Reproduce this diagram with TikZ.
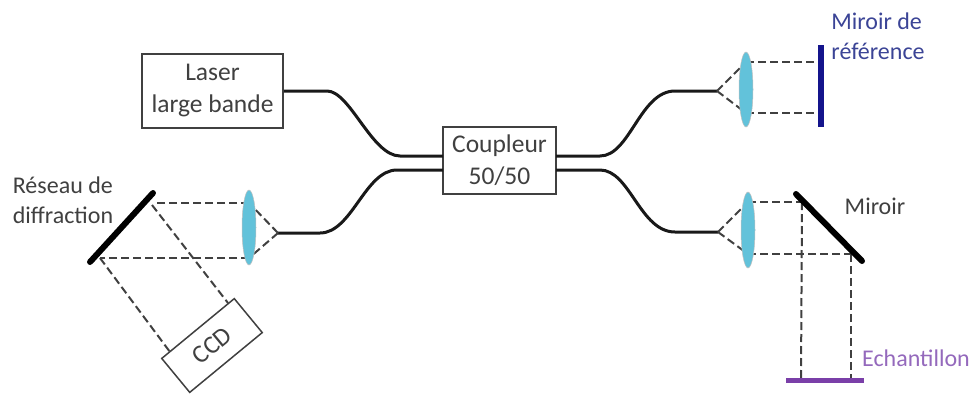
\documentclass[tikz,border=0pt]{standalone}
\usepackage{fontspec}
\setmainfont{Carlito}
\usepackage{xcolor}
\usetikzlibrary{positioning,shapes.geometric}
\definecolor{txtgris}{HTML}{404040}
\definecolor{bleunuit}{HTML}{14148C}
\definecolor{bleutxt}{HTML}{3B4496}
\definecolor{violet}{HTML}{7A3FA8}
\definecolor{violettxt}{HTML}{9469BC}
\definecolor{lentille}{HTML}{62C2DA}
\tikzset{
  boite/.style={draw=black!75,line width=1.5pt,fill=white,align=center,text=txtgris,inner sep=0pt,font=\fontsize{25.5}{32}\selectfont},
  legende/.style={align=left,inner sep=0pt,text=txtgris,font=\fontsize{24}{30}\selectfont},
  fibre/.style={line width=3pt,black!90},
  faisceau/.style={dashed,dash pattern=on 8pt off 4pt,line width=2pt,black!75},
  miroir/.style={line width=6pt,line cap=round},
  lens/.style={ellipse,draw=black!25,line width=.5pt,fill=lentille,inner sep=0pt,minimum width=14pt}
}
\begin{document}
\begin{tikzpicture}[x=1pt,y=-1pt]
    \useasboundingbox (0,0) rectangle (975,394);
    % ------------------------------------------------------------------
    %                             NODES
    % ------------------------------------------------------------------
    % boxes
    \node[boite,minimum width=141pt,minimum height=74pt]  (laser)    at (212.5,91)  {Laser\\large bande};
    \node[boite,minimum width=113pt,minimum height=67pt]  (coupleur) at (499.5,160.5) {Coupleur\\50/50};
    \node[boite,minimum width=94pt,minimum height=44pt,rotate=39.5] (ccd) at (212,345.5) {CCD};
    % labels
    \node[legende]                 (reseau)  at (63,200)   {Réseau de\\diffraction};
    \node[legende,text=bleutxt]    (reftxt)  at (878,36.5) {Miroir de\\référence};
    \node[legende]                 (mirtxt)  at (875,206)  {Miroir};
    \node[legende,text=violettxt]  (echtxt)  at (916,358)  {Echantillon};
    % coupler ports
    \coordinate (cNO) at (443,156);
    \coordinate (cSO) at (443,170);
    \coordinate (cNE) at (556,156);
    \coordinate (cSE) at (556,170);
    % fibre ends
    \coordinate (apexG)  at (278,233);
    \coordinate (apexH)  at (717,91);
    \coordinate (apexB)  at (718,232);
    % left arm
    \coordinate (resA)   at (153,193);
    \coordinate (resB)   at (90,262);
    \coordinate (resH)   at (155,203);
    \coordinate (resL)   at (100,258);
    \coordinate (resC)   at (152,205);
    \coordinate (resD)   at (100,258);
    \coordinate (lgH)    at (249,203);
    \coordinate (lgB)    at (249,258);
    \coordinate (ccdH)   at (228,303);
    \coordinate (ccdB)   at (170,352);
    % top right arm
    \coordinate (lhH)    at (746,62);
    \coordinate (lhB)    at (746,113);
    \coordinate (refH)   at (821,62);
    \coordinate (refB)   at (821,113);
    \coordinate (refA)   at (821,45);
    \coordinate (refC)   at (821,127);
    % bottom right arm
    \coordinate (lbH)    at (748,202);
    \coordinate (lbB)    at (748,254);
    \coordinate (mirA)   at (796,194);
    \coordinate (mirB)   at (862,261);
    \coordinate (mirH)   at (802,202);
    \coordinate (mirL)   at (851,254);
    \coordinate (echA)   at (786,380);
    \coordinate (echB)   at (864,380);
    \coordinate (echH)   at (801,380);
    \coordinate (echL)   at (851,380);

    % ------------------------------------------------------------------
    %                             EDGES
    % ------------------------------------------------------------------
    % fibres
    \draw[fibre] (laser.east) -- (327,91) .. controls (350,91) and (372,156) .. (400,156) -- (cNO);
    \draw[fibre] (cSO) -- (397,170) .. controls (365,170) and (352,233) .. (320,233) -- (apexG);
    \draw[fibre] (cNE) -- (600,156) .. controls (630,156) and (640,91) .. (675,91) -- (apexH);
    \draw[fibre] (cSE) -- (600,170) .. controls (630,170) and (640,232) .. (675,232) -- (apexB);
    % beams
    \path[faisceau]
      (apexG) edge (lgH)
              edge (lgB)
      (lgH)   edge (resH)
      (lgB)   edge (resL)
      (resC)  edge (ccdH)
      (resD)  edge (ccdB)
      (apexH) edge (lhH)
              edge (lhB)
      (lhH)   edge (refH)
      (lhB)   edge (refB)
      (apexB) edge (lbH)
              edge (lbB)
      (lbH)   edge (mirH)
      (lbB)   edge (mirL)
      (mirH)  edge (echH)
      (mirL)  edge (echL);
    % lenses
    \node[lens,minimum height=75pt] (lensG) at (249,227.5) {};
    \node[lens,minimum height=75pt] (lensH) at (746,89.5)  {};
    \node[lens,minimum height=76pt] (lensB) at (748,230)   {};
    % mirrors
    \draw[miroir] (resA) -- (resB);
    \draw[miroir,bleunuit,line cap=butt] (refA) -- (refC);
    \draw[miroir] (mirA) -- (mirB);
    \draw[miroir,violet,line width=5pt,line cap=butt] (echA) -- (echB);
\end{tikzpicture}
\end{document}
